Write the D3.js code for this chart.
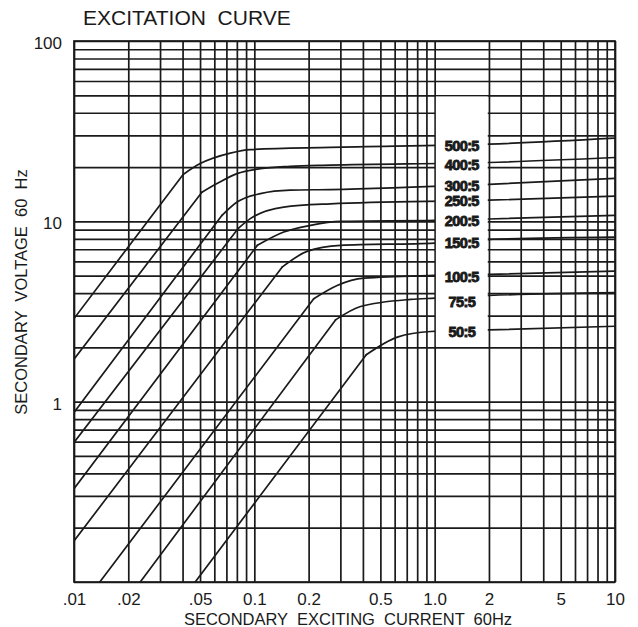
<!DOCTYPE html>
<html>
<head>
<meta charset="utf-8">
<script src="https://cdn.jsdelivr.net/npm/d3@7"></script>
<style>
  html, body { margin: 0; padding: 0; background: #fff; }
  svg text { font-family: "Liberation Sans", Arial, sans-serif; fill: #1a1a1a; white-space: pre; }
</style>
</head>
<body>
<svg id="chart" width="638" height="627"></svg>
<script>
// ratio labels, top to bottom
var ratios = ["500:5", "400:5", "300:5", "250:5", "200:5", "150:5", "100:5", "75:5", "50:5"];

// [secondary exciting current (A), secondary voltage (V)]
// first point -> second point is the straight part, the knee is the 2nd point
var curve500 = [[0.01, 2.89], [0.0403, 18.2], [0.0501, 20.9], [0.0736, 23.9], [0.095, 25.0], [0.264, 25.7], [2.0, 26.8], [10, 28.9]];
var curve400 = [[0.01, 1.72], [0.0512, 14.5], [0.0621, 16.2], [0.0802, 18.4], [0.108, 19.6], [0.158, 20.2], [0.264, 20.5], [2.0, 21.2], [10, 22.6]];
var curve300 = [[0.01, 0.872], [0.0662, 10.8], [0.0802, 12.8], [0.108, 14.25], [0.158, 14.9], [0.264, 15.0], [2.0, 16.05], [10, 17.3]];
var curve250 = [[0.01, 0.594], [0.0815, 9.15], [0.095, 10.35], [0.1455, 12.0], [0.264, 12.5], [2.0, 13.1], [10, 13.8]];
var curve200 = [[0.01, 0.329], [0.104, 7.36], [0.1455, 8.72], [0.205, 9.5], [0.30, 10.0], [1.0, 10.13], [2.0, 10.3], [10, 10.8]];
var curve150 = [[0.01, 0.169], [0.1425, 5.57], [0.196, 6.81], [0.30, 7.36], [1.0, 7.58], [2.0, 7.94], [10, 8.18]];
var curve100 = [[0.0139, 0.1], [0.2135, 3.72], [0.288, 4.41], [0.405, 4.84], [1.0, 5.01], [2.0, 5.08], [10, 5.3]];
var curve75  = [[0.0233, 0.1], [0.282, 2.84], [0.388, 3.37], [0.736, 3.69], [1.0, 3.75], [2.0, 3.88], [10, 4.02]];
var curve50  = [[0.047, 0.1], [0.4174, 1.82], [0.621, 2.28], [0.95, 2.45], [2.0, 2.5], [10, 2.62]];
var curves = [curve500, curve400, curve300, curve250, curve200, curve150, curve100, curve75, curve50];

var xTicks = [0.01, 0.02, 0.05, 0.1, 0.2, 0.5, 1, 2, 5, 10];
var xTickLabels = [".01", ".02", ".05", "0.1", "0.2", "0.5", "1.0", "2", "5", "10"];
var yTicks = [1, 10, 100];
var yTickLabels = ["1", "10", "100"];

// label column sits in a white box between 1.0 A and 2 A
var boxCurrent = [1, 2],
	boxVoltage = [2, 50];
var labelBaseline = [151, 170, 191, 206, 226, 248, 282, 307, 337];

drawChart();

function drawChart(){
	var plotL = 74, plotR = 615, plotT = 41, plotB = 582,
		ink = "#1a1a1a",
		lineW = 1.7;

	var svg = d3.select("#chart");

	var x = d3.scaleLog().domain([0.01, 10]).range([plotL, plotR]);
	var y = d3.scaleLog().domain([0.1, 100]).range([plotB, plotT]);

	// grid (1..9 per decade)
	var grid = svg.append("g").attr("class", "grid");
	grid.append("g")
		.attr("transform", "translate(0," + plotB + ")")
		.call(d3.axisBottom(x).ticks(30).tickSize(-(plotB - plotT)).tickFormat(""))
		.call(function(g){ g.select(".domain").remove(); });
	grid.append("g")
		.attr("transform", "translate(" + plotL + ",0)")
		.call(d3.axisLeft(y).ticks(30).tickSize(-(plotR - plotL)).tickFormat(""))
		.call(function(g){ g.select(".domain").remove(); });
	grid.selectAll("line").attr("stroke", ink).attr("stroke-width", lineW);

	// curves
	svg.append("clipPath").attr("id", "plotClip")
		.append("rect")
		.attr("x", plotL).attr("y", plotT)
		.attr("width", plotR - plotL).attr("height", plotB - plotT);

	var straight = d3.line()
		.x(function(d){ return x(d[0]); })
		.y(function(d){ return y(d[1]); });
	var bend = d3.line()
		.curve(d3.curveMonotoneX)
		.x(function(d){ return x(d[0]); })
		.y(function(d){ return y(d[1]); });

	var curveG = svg.append("g").attr("clip-path", "url(#plotClip)");
	curves.forEach(function(c){
		curveG.append("path")
			.attr("d", straight(c.slice(0, 2)))
			.attr("fill", "none").attr("stroke", ink)
			.attr("stroke-width", lineW).attr("stroke-linecap", "round");
		curveG.append("path")
			.attr("d", bend(c.slice(1)))
			.attr("fill", "none").attr("stroke", ink)
			.attr("stroke-width", lineW).attr("stroke-linecap", "round");
	});

	// white label box
	svg.append("rect")
		.attr("x", x(boxCurrent[0]) + 1.2)
		.attr("y", y(boxVoltage[1]) + 1.2)
		.attr("width", x(boxCurrent[1]) - x(boxCurrent[0]) - 2.4)
		.attr("height", y(boxVoltage[0]) - y(boxVoltage[1]) - 2.4)
		.attr("fill", "#fff");

	var labelX = (x(boxCurrent[0]) + x(boxCurrent[1])) / 2;
	svg.append("g").selectAll("text")
		.data(ratios)
		.enter()
		.append("text")
		.attr("x", labelX)
		.attr("y", function(d, i){ return labelBaseline[i]; })
		.attr("text-anchor", "middle")
		.attr("font-size", "14.5px")
		.attr("font-weight", "bold")
		.attr("letter-spacing", "-0.6px")
		.attr("stroke", ink)
		.attr("stroke-width", 0.9)
		.text(function(d){ return d; });

	// frame
	svg.append("rect")
		.attr("x", plotL).attr("y", plotT)
		.attr("width", plotR - plotL).attr("height", plotB - plotT)
		.attr("fill", "none").attr("stroke", ink).attr("stroke-width", lineW);

	// axis labels
	var xAxis = d3.axisBottom(x)
		.tickValues(xTicks)
		.tickSize(0)
		.tickPadding(0)
		.tickFormat(function(d, i){ return xTickLabels[i]; });
	svg.append("g")
		.attr("transform", "translate(0," + plotB + ")")
		.call(xAxis)
		.call(function(g){
			g.select(".domain").remove();
			g.selectAll("text")
				.attr("dy", null).attr("y", 23)
				.attr("font-size", "17px")
				.attr("font-family", null)
				.attr("fill", ink);
		});

	var yAxis = d3.axisLeft(y)
		.tickValues(yTicks)
		.tickSize(0)
		.tickPadding(12)
		.tickFormat(function(d, i){ return yTickLabels[i]; });
	svg.append("g")
		.attr("transform", "translate(" + plotL + ",0)")
		.call(yAxis)
		.call(function(g){
			g.select(".domain").remove();
			g.selectAll("text")
				.attr("dy", "0.45em")
				.attr("font-size", "17px")
				.attr("font-family", null)
				.attr("fill", ink);
		});

	// titles
	svg.append("text")
		.attr("x", 83).attr("y", 25)
		.attr("font-size", "21px")
		.text("EXCITATION  CURVE");

	svg.append("text")
		.attr("x", 348).attr("y", 625)
		.attr("text-anchor", "middle")
		.attr("font-size", "16.5px")
		.text("SECONDARY  EXCITING  CURRENT  60Hz");

	svg.append("text")
		.attr("transform", "translate(27,292) rotate(-90)")
		.attr("text-anchor", "middle")
		.attr("font-size", "16.5px")
		.text("SECONDARY  VOLTAGE  60  Hz");
}
</script>
</body>
</html>
